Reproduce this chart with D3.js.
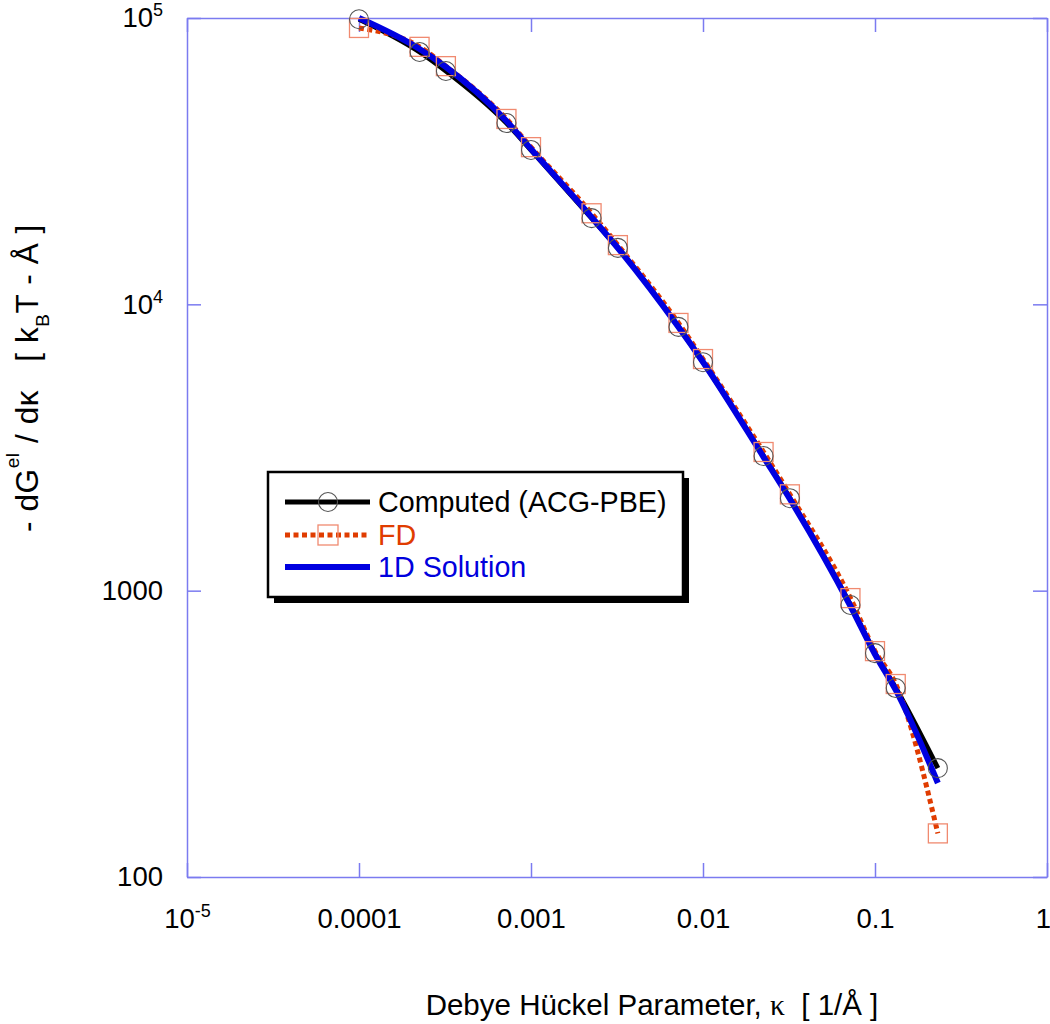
<!DOCTYPE html>
<html><head><meta charset="utf-8">
<script src="https://cdn.jsdelivr.net/npm/d3@7"></script>
<style>body{margin:0;background:#fff} svg{display:block}</style>
</head><body>
<svg id="chart" width="1050" height="1024"></svg>
<script>
// ---- data ----
const kappa    = [1e-4, 2.25e-4, 3.2e-4, 7.2e-4, 1e-3, 2.25e-3, 3.2e-3, 7.2e-3, 0.01, 0.0225, 0.032, 0.072, 0.1, 0.132, 0.232];
const computed = [99000, 76100, 65300, 42970, 34600, 20000, 15740, 8340, 6280, 2952, 2103, 891, 605, 457, 240];
const fdVals   = [92300, 79300, 67900, 44400, 35400, 20800, 16100, 8610, 6440, 3050, 2170, 942, 615, 472, 142];
const oneD     = [100000, 77950, 67440, 43680, 34860, 20170, 15730, 8330, 6288, 2929, 2089, 884, 600, 450, 213];

const xTicks    = [1e-5, 1e-4, 1e-3, 1e-2, 0.1, 1];
const xTickBase = ["10", "0.0001", "0.001", "0.01", "0.1", "1"];
const xTickExp  = ["-5", "", "", "", "", ""];
const yTicks    = [100, 1000, 1e4, 1e5];
const yTickBase = ["100", "1000", "10", "10"];
const yTickExp  = ["", "", "4", "5"];

const legendLabels = ["Computed (ACG-PBE)", "FD", "1D Solution"];

// ---- layout ----
const svg = d3.select("#chart");
const L = 187, R = 1047, T = 18, B = 877;
const FONT = "'Liberation Sans', Arial, Helvetica, sans-serif";
const axisColor = "#7b7bf0";
const cBlack = "#000000", cFD = "#e03c00", cBlue = "#0000e0";

const x = d3.scaleLog().domain([1e-5, 1]).range([L, R]);
const y = d3.scaleLog().domain([100, 1e5]).range([B, T]);

function styleAxis(g) {
  g.selectAll(".domain").attr("stroke", axisColor).attr("stroke-width", 1.5);
  g.selectAll(".tick line").attr("stroke", axisColor).attr("stroke-width", 1.5);
  g.selectAll(".tick text").attr("fill", "#000").attr("font-size", "27.5px").attr("font-family", FONT);
}
function decorate(g, bases, exps) {
  g.selectAll(".tick text").each(function(d, i) {
    const t = d3.select(this);
    t.text(null);
    t.append("tspan").text(bases[i]);
    if (exps[i]) t.append("tspan").attr("dy", -11).attr("font-size", "18px").text(exps[i]);
  });
}

const gx = svg.append("g").attr("transform", `translate(0,${B})`)
  .call(d3.axisBottom(x).tickValues(xTicks).tickSizeInner(-14).tickSizeOuter(0).tickPadding(31).tickFormat(d => ""));
styleAxis(gx); decorate(gx, xTickBase, xTickExp);
gx.selectAll(".tick text").filter((d, i) => i === xTicks.length - 1).attr("dx", -4);

const gy = svg.append("g").attr("transform", `translate(${L},0)`)
  .call(d3.axisLeft(y).tickValues(yTicks).tickSizeInner(-14).tickSizeOuter(0).tickPadding(24).tickFormat(d => ""));
styleAxis(gy); decorate(gy, yTickBase, yTickExp);

const gt = svg.append("g").attr("transform", `translate(0,${T})`)
  .call(d3.axisTop(x).tickValues(xTicks).tickSizeInner(-14).tickSizeOuter(0).tickFormat(""));
styleAxis(gt);
const gr = svg.append("g").attr("transform", `translate(${R},0)`)
  .call(d3.axisRight(y).tickValues(yTicks).tickSizeInner(-14).tickSizeOuter(0).tickFormat(""));
styleAxis(gr);

// ---- series ----
const line = d3.line().x(d => x(d[0])).y(d => y(d[1])).curve(d3.curveMonotoneX);
const sComputed = kappa.map((k, i) => [k, computed[i]]);
const sFD = kappa.map((k, i) => [k, fdVals[i]]);
const sOne = kappa.map((k, i) => [k, oneD[i]]);

svg.append("path").datum(sComputed).attr("d", line)
  .attr("fill", "none").attr("stroke", cBlack).attr("stroke-width", 5);
svg.append("path").datum(sFD).attr("d", line)
  .attr("fill", "none").attr("stroke", cFD).attr("stroke-width", 5).attr("stroke-dasharray", "5,3.5");
svg.append("path").datum(sOne).attr("d", line)
  .attr("fill", "none").attr("stroke", cBlue).attr("stroke-width", 6);

svg.append("g").selectAll("rect").data(sFD).join("rect")
  .attr("x", d => x(d[0]) - 9.5).attr("y", d => y(d[1]) - 9.5)
  .attr("width", 19).attr("height", 19)
  .attr("fill", "none").attr("stroke", "#f08a70").attr("stroke-width", 1.3);
svg.append("g").selectAll("circle").data(sComputed).join("circle")
  .attr("cx", d => x(d[0])).attr("cy", d => y(d[1])).attr("r", 9.5)
  .attr("fill", "none").attr("stroke", "#555").attr("stroke-width", 1.1);

// ---- legend ----
const lg = svg.append("g");
lg.append("rect").attr("x", 274).attr("y", 478).attr("width", 415).attr("height", 125).attr("fill", "#000");
lg.append("rect").attr("x", 268).attr("y", 472).attr("width", 415).attr("height", 125)
  .attr("fill", "#fff").attr("stroke", "#000").attr("stroke-width", 2.5);
const rowsY = [502, 535, 567];
const legColors = [cBlack, cFD, cBlue];
const legText = ["#000", cFD, "#0000dd"];
legendLabels.forEach((lab, i) => {
  const ln = lg.append("line").attr("x1", 285).attr("x2", 370).attr("y1", rowsY[i]).attr("y2", rowsY[i])
    .attr("stroke", legColors[i]).attr("stroke-width", i === 2 ? 6 : 5);
  if (i === 1) ln.attr("stroke-dasharray", "5,3.5");
  if (i === 0) lg.append("circle").attr("cx", 328).attr("cy", rowsY[i]).attr("r", 9.5)
    .attr("fill", "none").attr("stroke", "#555").attr("stroke-width", 1.1);
  if (i === 1) lg.append("rect").attr("x", 318).attr("y", rowsY[i] - 10).attr("width", 20).attr("height", 20)
    .attr("fill", "none").attr("stroke", "#f08a70").attr("stroke-width", 1.3);
  lg.append("text").attr("x", 378).attr("y", rowsY[i] + 10).attr("font-size", "28.7px")
    .attr("font-family", FONT).attr("fill", legText[i]).text(lab);
});

// ---- axis titles ----
const xt = svg.append("text").attr("x", 652).attr("y", 1015).attr("text-anchor", "middle")
  .attr("font-size", "29.5px").attr("font-family", FONT).attr("fill", "#000");
xt.append("tspan").text("Debye Hückel Parameter, ");
xt.append("tspan").attr("font-family", "'Liberation Serif', 'Times New Roman', serif").text("κ");
xt.append("tspan").text("\u00a0\u00a0[ 1/Å ]");

const yt = svg.append("text").attr("transform", "translate(38,378) rotate(-90)").attr("text-anchor", "middle")
  .attr("font-size", "31.5px").attr("letter-spacing", "0.6px").attr("font-family", FONT).attr("fill", "#000");
yt.append("tspan").text("- dG");
yt.append("tspan").attr("font-size", "19px").attr("dy", -19).text("el");
yt.append("tspan").attr("dy", 19).text(" / dκ\u00a0\u00a0\u00a0[ k");
yt.append("tspan").attr("font-size", "19px").attr("dy", 11).text("B");
yt.append("tspan").attr("dy", -11).text("T - Å ]");
</script>
</body></html>
